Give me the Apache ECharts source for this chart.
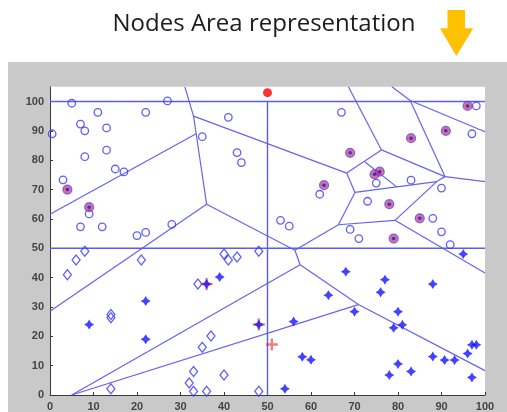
<!DOCTYPE html>
<html>
<head>
<meta charset="utf-8">
<script src="https://cdn.jsdelivr.net/npm/echarts@6/dist/echarts.min.js"></script>
<style>
  html, body { margin: 0; padding: 0; background: #fff; }
  #chart { width: 507px; height: 412px; }
</style>
</head>
<body>
<div id="chart"></div>
<script>
// Axis ticks (both axes)
const tickValues = [0, 10, 20, 30, 40, 50, 60, 70, 80, 90, 100];

// Base station (sink)
const sinkNode = [[50, 103]];

// Cluster heads in the upper half (filled circles)
const headNodes = [
  [4, 70], [9, 64],
  [96, 98.5], [91, 90], [83, 87.5], [69, 82.5], [74.6, 75.2], [75.8, 76.1],
  [63, 71.5], [78, 65], [85, 60.2], [79, 53.3]
];

// Ordinary nodes, upper half (open circles)
const circleNodes = [
  [5, 99.4], [27, 100.2], [0.5, 89], [7, 92.3], [8, 90], [11, 96.3], [13, 91],
  [22, 96.3], [13, 83.4], [8, 81.2], [15, 77], [17, 76], [3, 73.3], [9, 61.7],
  [7, 57.3], [12, 57.3], [20, 54.3], [22, 55.4], [28, 58.1], [35, 88],
  [41, 94.6], [43, 82.6], [44, 79.2],
  [67, 96.3], [98, 98.5], [97, 89], [75, 72.2], [83, 73.2], [62, 68.4],
  [90, 70.5], [73, 66], [88, 60.2], [90, 55.6], [92, 51.2], [69, 56.4],
  [71, 53.3], [53, 59.5], [55, 57.5]
];

// Ordinary nodes, lower-left quarter (open diamonds)
const diamondNodes = [
  [4, 41], [6, 46], [8, 49], [21, 46], [14, 27.4], [14, 26.3], [14, 2.1],
  [34, 37.8], [40, 48], [41, 46], [43, 47], [48, 49], [37, 20.1], [35, 16.3],
  [33, 8], [32, 4.1], [33, 1.3], [36, 1.3], [40, 6.8], [48, 1.3]
];

// Ordinary nodes, lower half (filled stars)
const starNodes = [
  [9, 24], [22, 32], [22, 19], [39, 40.2], [48, 24], [36, 37.8],
  [54, 2.1], [56, 25], [58, 13], [60, 12], [64, 34], [68, 42], [70, 28.4],
  [77, 39.3], [76, 35], [80, 28.4], [79, 22.9], [81, 23.9], [88, 37.8],
  [80, 10.6], [78, 6.8], [83, 8], [88, 13.1], [90.7, 11.9], [93, 11.9],
  [96, 14.1], [97, 17.1], [98, 17.1], [97, 6], [95, 48]
];

// Cluster heads in the lower half (red crosses)
const crossHeads = [[36, 37.8], [48, 24], [51, 17.2]];

// Area borders: quarter lines and Voronoi edges (polylines)
const quarterLines = [
  [[0, 100], [100, 100]],
  [[0, 50], [100, 50]],
  [[50, 0], [50, 100]]
];
const voronoiEdges = [
  [[31, 105], [33, 95], [33.6, 89], [36, 65]],
  [[0, 61.6], [33.6, 89]],
  [[33, 95], [68.2, 75.6]],
  [[0, 28.5], [36, 65]],
  [[36, 65], [56.3, 49.3]],
  [[56.3, 49.3], [66.3, 58]],
  [[56.3, 49.3], [57.5, 44.4]],
  [[5, 0], [57.5, 44.4]],
  [[5, 0], [70.9, 30.8]],
  [[57.5, 44.4], [70.9, 30.8], [100, 8.3]],
  [[68.6, 105], [76.2, 83.5]],
  [[68.2, 75.6], [76.2, 83.5]],
  [[76.2, 83.5], [90.8, 74.4]],
  [[78.6, 105], [82.8, 100.3], [100, 89.7]],
  [[82.8, 100.3], [90.8, 74.4]],
  [[90.8, 74.4], [100, 72.7]],
  [[90.8, 74.4], [88.9, 72.7]],
  [[68.2, 75.6], [70.1, 69]],
  [[70.1, 69], [88.9, 72.7]],
  [[72.4, 79.4], [79.7, 70.9]],
  [[88.9, 72.7], [79.3, 59.5]],
  [[70.1, 69], [66.3, 58]],
  [[66.3, 58], [79.3, 59.5]],
  [[79.3, 59.5], [100, 41.6]]
];

const BLUE = '#3636ff';
const EDGE = '#5b5bf6';
const STAR = 'path://M0,-5 L1.9,-1.9 L5,0 L1.9,1.9 L0,5 L-1.9,1.9 L-5,0 L-1.9,-1.9 Z';
const PLUS = 'path://M-1,-5 H1 V-1 H5 V1 H1 V5 H-1 V1 H-5 V-1 H-1 Z';

const chart = echarts.init(document.getElementById('chart'), null, { renderer: 'canvas' });

const axisCommon = {
  type: 'value',
  min: 0,
  interval: 10,
  splitLine: { show: false },
  axisLine: { show: true, onZero: false, lineStyle: { color: '#3a3a3a', width: 1 } },
  axisTick: { show: true, inside: true, length: 3, customValues: tickValues, lineStyle: { color: '#3a3a3a' } },
  axisLabel: {
    customValues: tickValues,
    fontFamily: 'Liberation Sans, Arial, sans-serif',
    fontSize: 11,
    fontWeight: 'bold',
    color: '#454545',
    margin: 6
  }
};

chart.setOption({
  backgroundColor: '#ffffff',
  animation: false,
  graphic: [
    { type: 'rect', z: -10, silent: true, shape: { x: 8, y: 62, width: 499, height: 350 }, style: { fill: '#c9c9c9' } },
    {
      type: 'text', silent: true,
      style: {
        text: 'Nodes Area representation', x: 264, y: 24.5,
        textAlign: 'center', textVerticalAlign: 'middle',
        fill: '#1c1c1c', font: '24px "Open Sans", Lato, sans-serif'
      }
    },
    {
      type: 'polygon', silent: true,
      shape: { points: [[447.5, 10], [465, 10], [465, 28.3], [473.3, 28.3], [456.3, 56], [440, 28.3], [447.5, 28.3]] },
      style: { fill: '#ffc000' }
    }
  ],
  grid: {
    left: 50, right: 22, top: 86.8, bottom: 16.5,
    show: true, backgroundColor: '#ffffff', borderWidth: 0
  },
  xAxis: Object.assign({}, axisCommon, { max: 100 }),
  yAxis: Object.assign({}, axisCommon, { max: 105 }),
  series: [
    {
      type: 'lines', coordinateSystem: 'cartesian2d', polyline: true, silent: true,
      lineStyle: { color: EDGE, width: 1.4, opacity: 1 },
      data: quarterLines.map(c => ({ coords: c }))
    },
    {
      type: 'lines', coordinateSystem: 'cartesian2d', polyline: true, silent: true,
      lineStyle: { color: EDGE, width: 1.2, opacity: 0.95 },
      data: voronoiEdges.map(c => ({ coords: c }))
    },
    {
      type: 'scatter', name: 'nodes', symbol: 'circle', symbolSize: 7.5,
      itemStyle: { color: 'rgba(255,255,255,0)', borderColor: BLUE, borderWidth: 1.3 },
      data: circleNodes
    },
    {
      type: 'scatter', name: 'nodes', symbol: 'diamond', symbolSize: [8, 10],
      itemStyle: { color: 'rgba(255,255,255,0)', borderColor: BLUE, borderWidth: 1.3 },
      data: diamondNodes
    },
    {
      type: 'scatter', name: 'heads', symbol: PLUS, symbolSize: 12,
      itemStyle: { color: 'rgba(240,50,50,0.8)' },
      data: crossHeads
    },
    {
      type: 'scatter', name: 'nodes', symbol: STAR, symbolSize: 10,
      itemStyle: { color: '#1414ff' },
      data: starNodes
    },
    {
      type: 'scatter', name: 'heads', symbol: 'circle', symbolSize: 9,
      itemStyle: { color: 'rgba(195,45,110,0.85)', borderColor: 'rgba(80,70,230,0.9)', borderWidth: 1.2 },
      data: headNodes
    },
    {
      type: 'scatter', name: 'heads', symbol: 'circle', symbolSize: 3.5,
      itemStyle: { color: '#1a1ae0' },
      data: headNodes
    },
    {
      type: 'scatter', name: 'sink', symbol: 'circle', symbolSize: 9, clip: false,
      itemStyle: { color: '#ff0000' },
      data: sinkNode
    }
  ]
});
</script>
</body>
</html>
